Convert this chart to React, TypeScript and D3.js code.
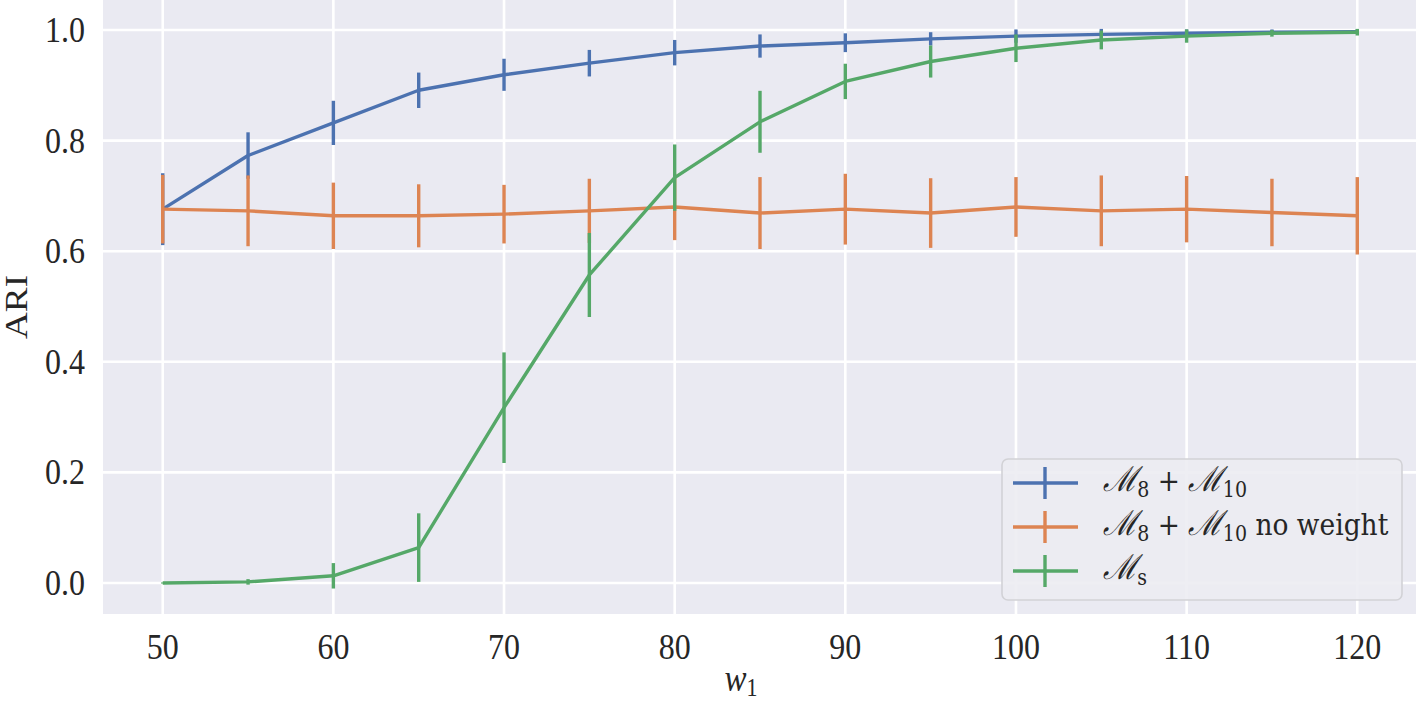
import React from "react";
import * as d3 from "d3";

const xs = [50, 55, 60, 65, 70, 75, 80, 85, 90, 95, 100, 105, 110, 115, 120];
const blueMean = [0.676, 0.773, 0.832, 0.891, 0.919, 0.940, 0.959, 0.971, 0.977, 0.984, 0.989, 0.992, 0.994, 0.996, 0.997];
const blueErr = [0.065, 0.042, 0.040, 0.032, 0.029, 0.024, 0.023, 0.021, 0.017, 0.012, 0.012, 0.010, 0.007, 0.005, 0.004];
const orangeMean = [0.676, 0.673, 0.664, 0.664, 0.667, 0.673, 0.680, 0.669, 0.676, 0.669, 0.680, 0.673, 0.676, 0.670, 0.664];
const orangeErr = [0.062, 0.064, 0.060, 0.057, 0.053, 0.058, 0.060, 0.065, 0.064, 0.063, 0.054, 0.064, 0.060, 0.061, 0.070];
const greenMean = [0.000, 0.002, 0.013, 0.064, 0.317, 0.557, 0.733, 0.834, 0.907, 0.943, 0.967, 0.982, 0.989, 0.994, 0.996];
const greenErr = [0.001, 0.005, 0.023, 0.062, 0.100, 0.076, 0.060, 0.056, 0.032, 0.029, 0.025, 0.017, 0.012, 0.006, 0.006];
const xTicks = [50, 60, 70, 80, 90, 100, 110, 120];
const yTicks = [0.0, 0.2, 0.4, 0.6, 0.8, 1.0];

const series = [
  { name: "blue", mean: blueMean, err: blueErr, color: "#4C72B0", sub: "10", suffix: "" },
  { name: "orange", mean: orangeMean, err: orangeErr, color: "#DD8452", sub: "10", suffix: " no weight" },
  { name: "green", mean: greenMean, err: greenErr, color: "#55A868", sub: "s", suffix: "" },
];

const W = 1416;
const H = 701;
const left = 103;
const right = 1417;
const bottom = 614;
const top = 0;

const FONT = "'Liberation Serif', 'DejaVu Serif', serif";
const LFONT = "'DejaVu Serif', serif";
const TXT = "#262626";

function T({ x, y, size, anchor, children, rotate }: any) {
  const tr = rotate
    ? `translate(${x},${y}) rotate(-90) scale(1.2,1)`
    : `translate(${x},${y}) scale(1,1.15)`;
  return (
    <text transform={tr} fontFamily={FONT} fontSize={size} textAnchor={anchor || "middle"} fill={TXT}>
      {children}
    </text>
  );
}

export default function App() {
  const x = d3.scaleLinear().domain([46.5, 123.5]).range([left, right]);
  const y = d3.scaleLinear().domain([0, 1]).range([583, 30]);
  const line = d3
    .line<number>()
    .x((_, i) => x(xs[i]))
    .y((d) => y(d));

  const legX = 1002;
  const legY = 459;
  const rowY = [483, 527, 571];

  return (
    <svg width={W} height={H} style={{ position: "absolute", left: 0, top: 0 }}>
      <rect x={0} y={0} width={W} height={H} fill="#ffffff" />
      <rect x={left} y={top} width={right - left} height={bottom - top} fill="#EAEAF2" />
      {xTicks.map((t) => (
        <line key={"gx" + t} x1={x(t)} x2={x(t)} y1={top} y2={bottom} stroke="#ffffff" strokeWidth={2.6} />
      ))}
      {yTicks.map((t) => (
        <line key={"gy" + t} x1={left} x2={right} y1={y(t)} y2={y(t)} stroke="#ffffff" strokeWidth={2.6} />
      ))}
      {series.map((s) => (
        <g key={s.name}>
          <path d={line(s.mean) || ""} fill="none" stroke={s.color} strokeWidth={3.4} strokeLinejoin="round" />
          {s.mean.map((m, i) => (
            <line
              key={i}
              x1={x(xs[i])}
              x2={x(xs[i])}
              y1={y(m - s.err[i])}
              y2={y(m + s.err[i])}
              stroke={s.color}
              strokeWidth={3.4}
            />
          ))}
        </g>
      ))}
      {xTicks.map((t) => (
        <T key={"tx" + t} x={x(t)} y={659} size={32}>
          {String(t)}
        </T>
      ))}
      {yTicks.map((t) => (
        <T key={"ty" + t} x={85} y={y(t) + 12} size={32} anchor="end">
          {t.toFixed(1)}
        </T>
      ))}
      <T x={27} y={307} size={31} rotate>
        ARI
      </T>
      <text
        transform="translate(741,691) scale(1,1.15)"
        fontFamily={FONT}
        fontSize={33}
        fontStyle="italic"
        textAnchor="middle"
        fill={TXT}
      >
        w<tspan fontStyle="normal" fontSize={22} dy={4}>1</tspan>
      </text>
      <rect x={legX} y={legY} width={400} height={141} rx={6} ry={6} fill="#ECECF2" fillOpacity={0.9} stroke="#d2d2d6" strokeWidth={1.6} />
      {series.map((s, i) => (
        <g key={"leg" + s.name}>
          <line x1={1013} x2={1078} y1={rowY[i]} y2={rowY[i]} stroke={s.color} strokeWidth={3.4} />
          <line x1={1045} x2={1045} y1={rowY[i] - 16} y2={rowY[i] + 16} stroke={s.color} strokeWidth={3.4} />
          <text
            transform={`translate(1103,${rowY[i] + 8}) scale(1,1.15)`}
            fontFamily={LFONT}
            fontSize={26.5}
            fill={TXT}
          >
            {s.sub === "s" ? (
              <>
                <tspan fontStyle="italic" fontSize={30}>ℳ</tspan>
                <tspan fontSize={19} dy={5}>s</tspan>
              </>
            ) : (
              <>
                <tspan fontStyle="italic" fontSize={30}>ℳ</tspan>
                <tspan fontSize={19} dy={5}>8</tspan>
                <tspan dy={-5}>{" + "}</tspan>
                <tspan fontStyle="italic" fontSize={30}>ℳ</tspan>
                <tspan fontSize={19} dy={5}>10</tspan>
                <tspan dy={-5}>{s.suffix}</tspan>
              </>
            )}
          </text>
        </g>
      ))}
    </svg>
  );
}
